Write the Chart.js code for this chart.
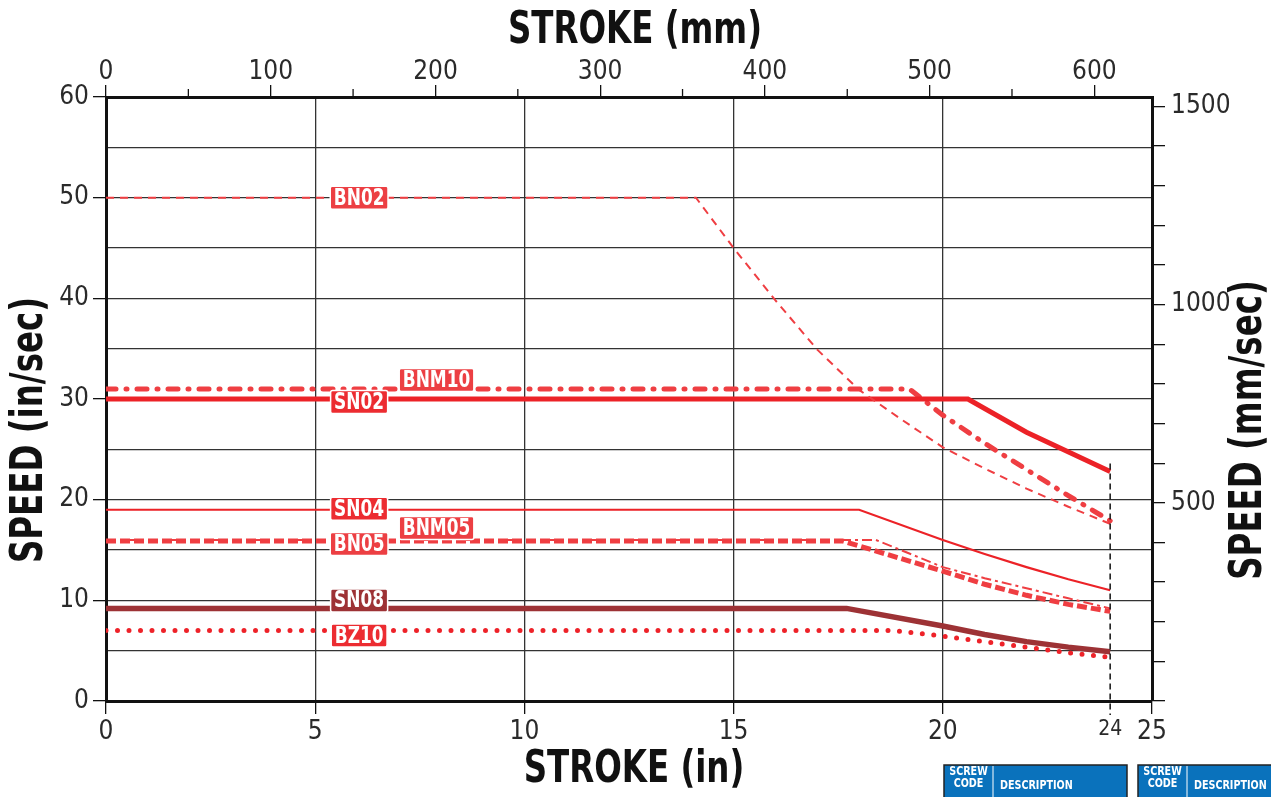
<!DOCTYPE html>
<html>
<head>
<meta charset="utf-8">
<script src="https://cdn.jsdelivr.net/npm/chart.js@4.4.1/dist/chart.umd.min.js"></script>
<style>
  html, body { margin: 0; padding: 0; background: #fff; }
  #wrap { position: relative; width: 1271px; height: 797px; }
</style>
</head>
<body>
<div id="wrap"><canvas id="chart"></canvas></div>
<script>
// stroke (in) / speed (in/sec)
const bn02Stroke = [0, 14.1, 15, 16, 17, 18, 19, 20, 21, 22, 23, 24];
const bn02Speed = [50, 50, 45, 39.8, 34.9, 30.9, 28.0, 25.2, 23.1, 21.1, 19.3, 17.6];
const bnm10Stroke = [0, 19.2, 20, 21, 22, 23, 24];
const bnm10Speed = [31, 31, 28.4, 25.6, 23.0, 20.4, 17.9];
const sn02Stroke = [0, 20.6, 22, 24];
const sn02Speed = [30, 30, 26.7, 22.8];
const sn04Stroke = [0, 18, 20, 21, 22, 23, 24];
const sn04Speed = [19, 19, 16, 14.6, 13.3, 12.1, 11];
const bnm05Stroke = [0, 18.4, 20, 21, 22, 23, 24];
const bnm05Speed = [16, 16, 13.3, 12.2, 11.2, 10.2, 9.2];
const bn05Stroke = [0, 17.6, 20, 21, 22, 23, 24];
const bn05Speed = [15.9, 15.9, 12.9, 11.6, 10.5, 9.6, 8.9];
const sn08Stroke = [0, 17.7, 20, 21, 22, 23, 24];
const sn08Speed = [9.2, 9.2, 7.45, 6.6, 5.9, 5.35, 4.9];
const bz10Stroke = [0, 18.8, 20, 21, 22, 23, 24];
const bz10Speed = [7.0, 7.0, 6.45, 5.9, 5.35, 4.8, 4.35];

// axes
const strokeInMax = 25;
const speedInMax = 60;
const mmPerIn = 25.4;
const strokeLimit = 24;   // dashed marker
const markerTop = 23.6;

const FONT = "'DejaVu Sans Condensed', 'Liberation Sans Narrow', sans-serif";
const INK = "#111";
const SQUEEZE = 0.82; // narrow the bold text to look condensed

function pts(xs, ys) {
  return xs.map((v, i) => ({ x: v, y: ys[i] }));
}

function isStep(v, step) {
  return Math.abs(v / step - Math.round(v / step)) < 1e-6;
}

// labels on the curves (tagX in inches, tagDy in px from the flat part)
const datasets = [
  { label: "BN02", data: pts(bn02Stroke, bn02Speed), borderColor: "#ef3e42", borderWidth: 2, borderDash: [8, 6], tagX: 6.05, tagDy: 0, tagColor: "#ec3f43" },
  { label: "SN02", data: pts(sn02Stroke, sn02Speed), borderColor: "#ec2227", borderWidth: 5, tagX: 6.05, tagDy: 3, tagColor: "#ec2c31" },
  { label: "BNM10", data: pts(bnm10Stroke, bnm10Speed), borderColor: "#ef3e42", borderWidth: 5, borderDash: [10, 10, 1, 10], borderCapStyle: "round", tagX: 7.9, tagDy: -9, tagColor: "#ec3f43" },
  { label: "SN04", data: pts(sn04Stroke, sn04Speed), borderColor: "#ec2227", borderWidth: 2.2, tagX: 6.05, tagDy: -1, tagColor: "#ec2c31" },
  { label: "BN05", data: pts(bn05Stroke, bn05Speed), borderColor: "#ef3e42", borderWidth: 5, borderDash: [10, 4], tagX: 6.05, tagDy: 3, tagColor: "#ec3f43" },
  { label: "BNM05", data: pts(bnm05Stroke, bnm05Speed), borderColor: "#ef3e42", borderWidth: 2, borderDash: [10, 4, 3, 4], tagX: 7.9, tagDy: -12, tagColor: "#ec3f43" },
  { label: "SN08", data: pts(sn08Stroke, sn08Speed), borderColor: "#9d3235", borderWidth: 5.5, tagX: 6.05, tagDy: -8, tagColor: "#9d3235" },
  { label: "BZ10", data: pts(bz10Stroke, bz10Speed), borderColor: "#ee2229", borderWidth: 5, borderDash: [0, 11.5], borderCapStyle: "round", tagX: 6.05, tagDy: 5, tagColor: "#ec2c31" },
];
datasets.forEach((d) => { d.pointRadius = 0; d.tension = 0; d.fill = false; });

function squeezed(ctx, text, cx, cy, rot) {
  ctx.save();
  ctx.translate(cx, cy);
  ctx.rotate(rot);
  ctx.scale(SQUEEZE, 1);
  ctx.fillText(text, 0, 0);
  ctx.restore();
}

const overlay = {
  id: "overlay",
  afterDatasetsDraw(chart) {
    const { ctx, scales: { x, y } } = chart;
    ctx.save();
    // dashed line at 24 in
    const xm = x.getPixelForValue(strokeLimit);
    ctx.strokeStyle = INK;
    ctx.lineWidth = 1.5;
    ctx.setLineDash([6, 4]);
    ctx.beginPath();
    ctx.moveTo(xm, y.getPixelForValue(markerTop));
    ctx.lineTo(xm, chart.chartArea.bottom + 14);
    ctx.stroke();
    ctx.setLineDash([]);

    // curve tags
    ctx.font = "bold 23px " + FONT;
    ctx.textAlign = "center";
    ctx.textBaseline = "middle";
    chart.data.datasets.forEach((ds) => {
      const px = x.getPixelForValue(ds.tagX);
      const py = y.getPixelForValue(ds.data[0].y) + ds.tagDy;
      const w = ctx.measureText(ds.label).width * SQUEEZE + 7;
      const h = 23;
      ctx.fillStyle = ds.tagColor;
      ctx.strokeStyle = "#fff";
      ctx.lineWidth = 1.5;
      ctx.beginPath();
      ctx.roundRect(px - w / 2, py - h / 2, w, h, 2);
      ctx.fill();
      ctx.stroke();
      ctx.fillStyle = "#fff";
      squeezed(ctx, ds.label, px, py + 1, 0);
    });
    ctx.restore();
  },
  afterDraw(chart) {
    const { ctx, chartArea, scales: { x2 } } = chart;
    ctx.save();
    // short ticks on the mm axis
    ctx.strokeStyle = INK;
    ctx.lineWidth = 1.3;
    for (let v = 50; v < strokeInMax * mmPerIn; v += 100) {
      const px = x2.getPixelForValue(v);
      ctx.beginPath();
      ctx.moveTo(px, chartArea.top);
      ctx.lineTo(px, chartArea.top - 8);
      ctx.stroke();
    }

    // axis titles
    ctx.fillStyle = INK;
    ctx.font = "bold 44px " + FONT;
    ctx.textAlign = "center";
    ctx.textBaseline = "middle";
    squeezed(ctx, "STROKE (mm)", 635, 32, 0);
    squeezed(ctx, "STROKE (in)", 634, 771, 0);
    squeezed(ctx, "SPEED (in/sec)", 31, 430, -Math.PI / 2);
    squeezed(ctx, "SPEED (mm/sec)", 1250, 430, -Math.PI / 2);

    // table headers peeking in at the bottom
    [[944, 1127, 993], [1138, 1290, 1187]].forEach(([x0, x1, xd]) => {
      ctx.fillStyle = "#0a72bc";
      ctx.fillRect(x0, 765, x1 - x0, 40);
      ctx.strokeStyle = "#222";
      ctx.lineWidth = 1.5;
      ctx.strokeRect(x0, 765, x1 - x0, 40);
      ctx.strokeStyle = "#fff";
      ctx.lineWidth = 1;
      ctx.beginPath();
      ctx.moveTo(xd, 766);
      ctx.lineTo(xd, 797);
      ctx.stroke();
      ctx.fillStyle = "#fff";
      ctx.font = "bold 13px " + FONT;
      ctx.textAlign = "center";
      squeezed(ctx, "SCREW", (x0 + xd) / 2, 772, 0);
      squeezed(ctx, "CODE", (x0 + xd) / 2, 784, 0);
      ctx.textAlign = "left";
      squeezed(ctx, "DESCRIPTION", xd + 7, 786, 0);
    });
    ctx.restore();
  },
};

function keepSteps(step) {
  return (scale) => {
    scale.ticks = scale.ticks.filter((t) => isStep(t.value, step));
  };
}

const tickFont = { family: FONT, size: 26 };
const tickInk = "#2a2a2a";

new Chart(document.getElementById("chart"), {
  type: "line",
  data: { datasets: datasets },
  options: {
    responsive: true,
    maintainAspectRatio: false,
    animation: false,
    layout: { padding: 0 },
    plugins: { legend: { display: false }, tooltip: { enabled: false } },
    scales: {
      x: {
        type: "linear",
        position: "bottom",
        min: 0,
        max: strokeInMax,
        afterBuildTicks: (scale) => {
          scale.ticks.push({ value: strokeLimit });
          scale.ticks.sort((a, b) => a.value - b.value);
        },
        afterFit: (scale) => { scale.height = 96; },
        ticks: {
          stepSize: 5,
          autoSkip: false,
          maxRotation: 0,
          padding: 3,
          color: tickInk,
          font: (c) => ({ family: FONT, size: c.tick && c.tick.value === strokeLimit ? 21 : 26 }),
        },
        grid: {
          color: (c) => (c.tick && c.tick.value === strokeLimit ? "transparent" : "#333"),
          tickColor: (c) => (c.tick && c.tick.value === strokeLimit ? "transparent" : INK),
          lineWidth: 1.3,
          tickLength: 13,
        },
        border: { color: INK, width: 3 },
      },
      x2: {
        type: "linear",
        position: "top",
        min: 0,
        max: strokeInMax * mmPerIn,
        afterBuildTicks: keepSteps(100),
        afterFit: (scale) => { scale.height = 97; },
        ticks: { stepSize: 100, includeBounds: false, autoSkip: false, maxRotation: 0, padding: -3, color: tickInk, font: tickFont },
        grid: { drawOnChartArea: false, tickColor: INK, lineWidth: 1.3, tickLength: 12 },
        border: { color: INK, width: 3 },
      },
      y: {
        position: "left",
        min: 0,
        max: speedInMax,
        afterFit: (scale) => { scale.width = 106; },
        ticks: {
          stepSize: 5,
          autoSkip: false,
          padding: 4,
          color: tickInk,
          font: tickFont,
          callback: (v) => (isStep(v, 10) ? Math.round(v) : ""),
        },
        grid: {
          color: "#333",
          lineWidth: 1.3,
          tickLength: 13,
          tickColor: (c) => (c.tick && isStep(c.tick.value, 10) ? INK : "transparent"),
        },
        border: { color: INK, width: 3 },
      },
      y2: {
        position: "right",
        min: 0,
        max: speedInMax * mmPerIn,
        afterBuildTicks: keepSteps(100),
        afterFit: (scale) => { scale.width = 119; },
        ticks: {
          stepSize: 100,
          includeBounds: false,
          autoSkip: false,
          padding: 6,
          color: tickInk,
          font: tickFont,
          callback: (v) => (isStep(v, 500) && v > 0 ? Math.round(v) : ""),
        },
        grid: { drawOnChartArea: false, tickColor: INK, lineWidth: 1.3, tickLength: 13 },
        border: { color: INK, width: 3 },
      },
    },
  },
  plugins: [overlay],
});
</script>
</body>
</html>
